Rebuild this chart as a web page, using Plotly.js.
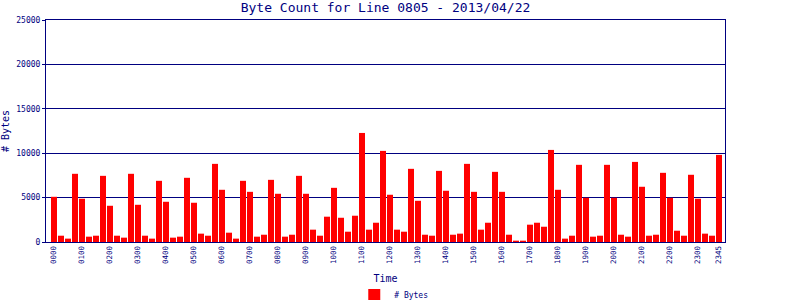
<!DOCTYPE html>
<html>
<head>
<meta charset="utf-8">
<script src="https://cdn.plot.ly/plotly-3.0.1.min.js"></script>
<style>html,body{margin:0;padding:0;background:#fff;}#chart{width:800px;height:300px;}</style>
</head>
<body>
<div id="chart"></div>
<script>
var times = [
"0000","0015","0030","0045","0100","0115","0130","0145","0200","0215","0230","0245",
"0300","0315","0330","0345","0400","0415","0430","0445","0500","0515","0530","0545",
"0600","0615","0630","0645","0700","0715","0730","0745","0800","0815","0830","0845",
"0900","0915","0930","0945","1000","1015","1030","1045","1100","1115","1130","1145",
"1200","1215","1230","1245","1300","1315","1330","1345","1400","1415","1430","1445",
"1500","1515","1530","1545","1600","1615","1630","1645","1700","1715","1730","1745",
"1800","1815","1830","1845","1900","1915","1930","1945","2000","2015","2030","2045",
"2100","2115","2130","2145","2200","2215","2230","2245","2300","2315","2330","2345"];

var bytes = [
5090,710,380,7680, 4870,600,710,7450, 4080,710,490,7680,
4190,710,380,6890, 4530,490,600,7230, 4420,940,710,8800,
5880,1050,380,6890, 5650,600,820,7000, 5430,600,820,7450,
5430,1390,710,2850, 6100,2730,1160,2960, 12280,1390,2170,10260,
5320,1390,1160,8240, 4640,820,710,8010, 5770,820,940,8800,
5650,1390,2170,7900, 5650,820,150,150, 1950,2170,1720,10370,
5880,380,710,8690, 4980,600,710,8690, 4980,820,600,9020,
6220,710,820,7790, 4980,1270,710,7570, 4870,940,710,9810];

var tickLabels = ["0000","0100","0200","0300","0400","0500","0600","0700","0800","0900","1000","1100",
"1200","1300","1400","1500","1600","1700","1800","1900","2000","2100","2200","2300","2345"];

var seriesName = "# Bytes";
var navy = "#000080";
var mono = "DejaVu Sans Mono";

Plotly.newPlot("chart", [{
  type: "bar",
  x: times,
  y: bytes,
  name: seriesName,
  marker: {color: "#ff0000"},
  showlegend: true
}], {
  width: 800, height: 300,
  margin: {l: 46, r: 75, t: 20, b: 58, pad: 0, autoexpand: false},
  paper_bgcolor: "#ffffff",
  plot_bgcolor: "#ffffff",
  bargap: 0.14,
  font: {family: mono, color: navy, size: 9},
  title: {text: "Byte Count for Line 0805 - 2013/04/22", font: {family: mono, size: 13, color: navy}, x: 0.5, xref: "paper", y: 0.975, yanchor: "middle"},
  xaxis: {
    type: "category",
    range: [-1.14, 95.86],
    tickmode: "array",
    tickvals: tickLabels,
    ticktext: tickLabels,
    tickangle: -90,
    tickfont: {family: mono, size: 7.5, color: navy},
    ticks: "",
    showgrid: false,
    showline: true, linecolor: navy, linewidth: 1, mirror: true,
    title: {text: "Time", font: {family: mono, size: 10, color: navy}, standoff: 11},
    automargin: false,
    fixedrange: true
  },
  yaxis: {
    range: [0, 25000],
    tickmode: "array",
    tickvals: [0, 5000, 10000, 15000, 20000, 25000],
    ticktext: ["0", "5000", "10000", "15000", "20000", "25000"],
    tickfont: {family: mono, size: 8, color: navy},
    ticks: "outside", ticklen: 3, tickcolor: navy,
    showgrid: true, gridcolor: navy, gridwidth: 1,
    zeroline: false,
    showline: true, linecolor: navy, linewidth: 1, mirror: true,
    title: {text: "# Bytes", font: {family: mono, size: 10, color: navy}, standoff: 4},
    automargin: false,
    fixedrange: true
  },
  legend: {
    orientation: "h",
    x: 0.454, xanchor: "left",
    y: -0.239, yanchor: "middle",
    font: {family: mono, size: 8, color: navy},
    bgcolor: "rgba(0,0,0,0)"
  }
}, {staticPlot: true});
</script>
</body>
</html>
